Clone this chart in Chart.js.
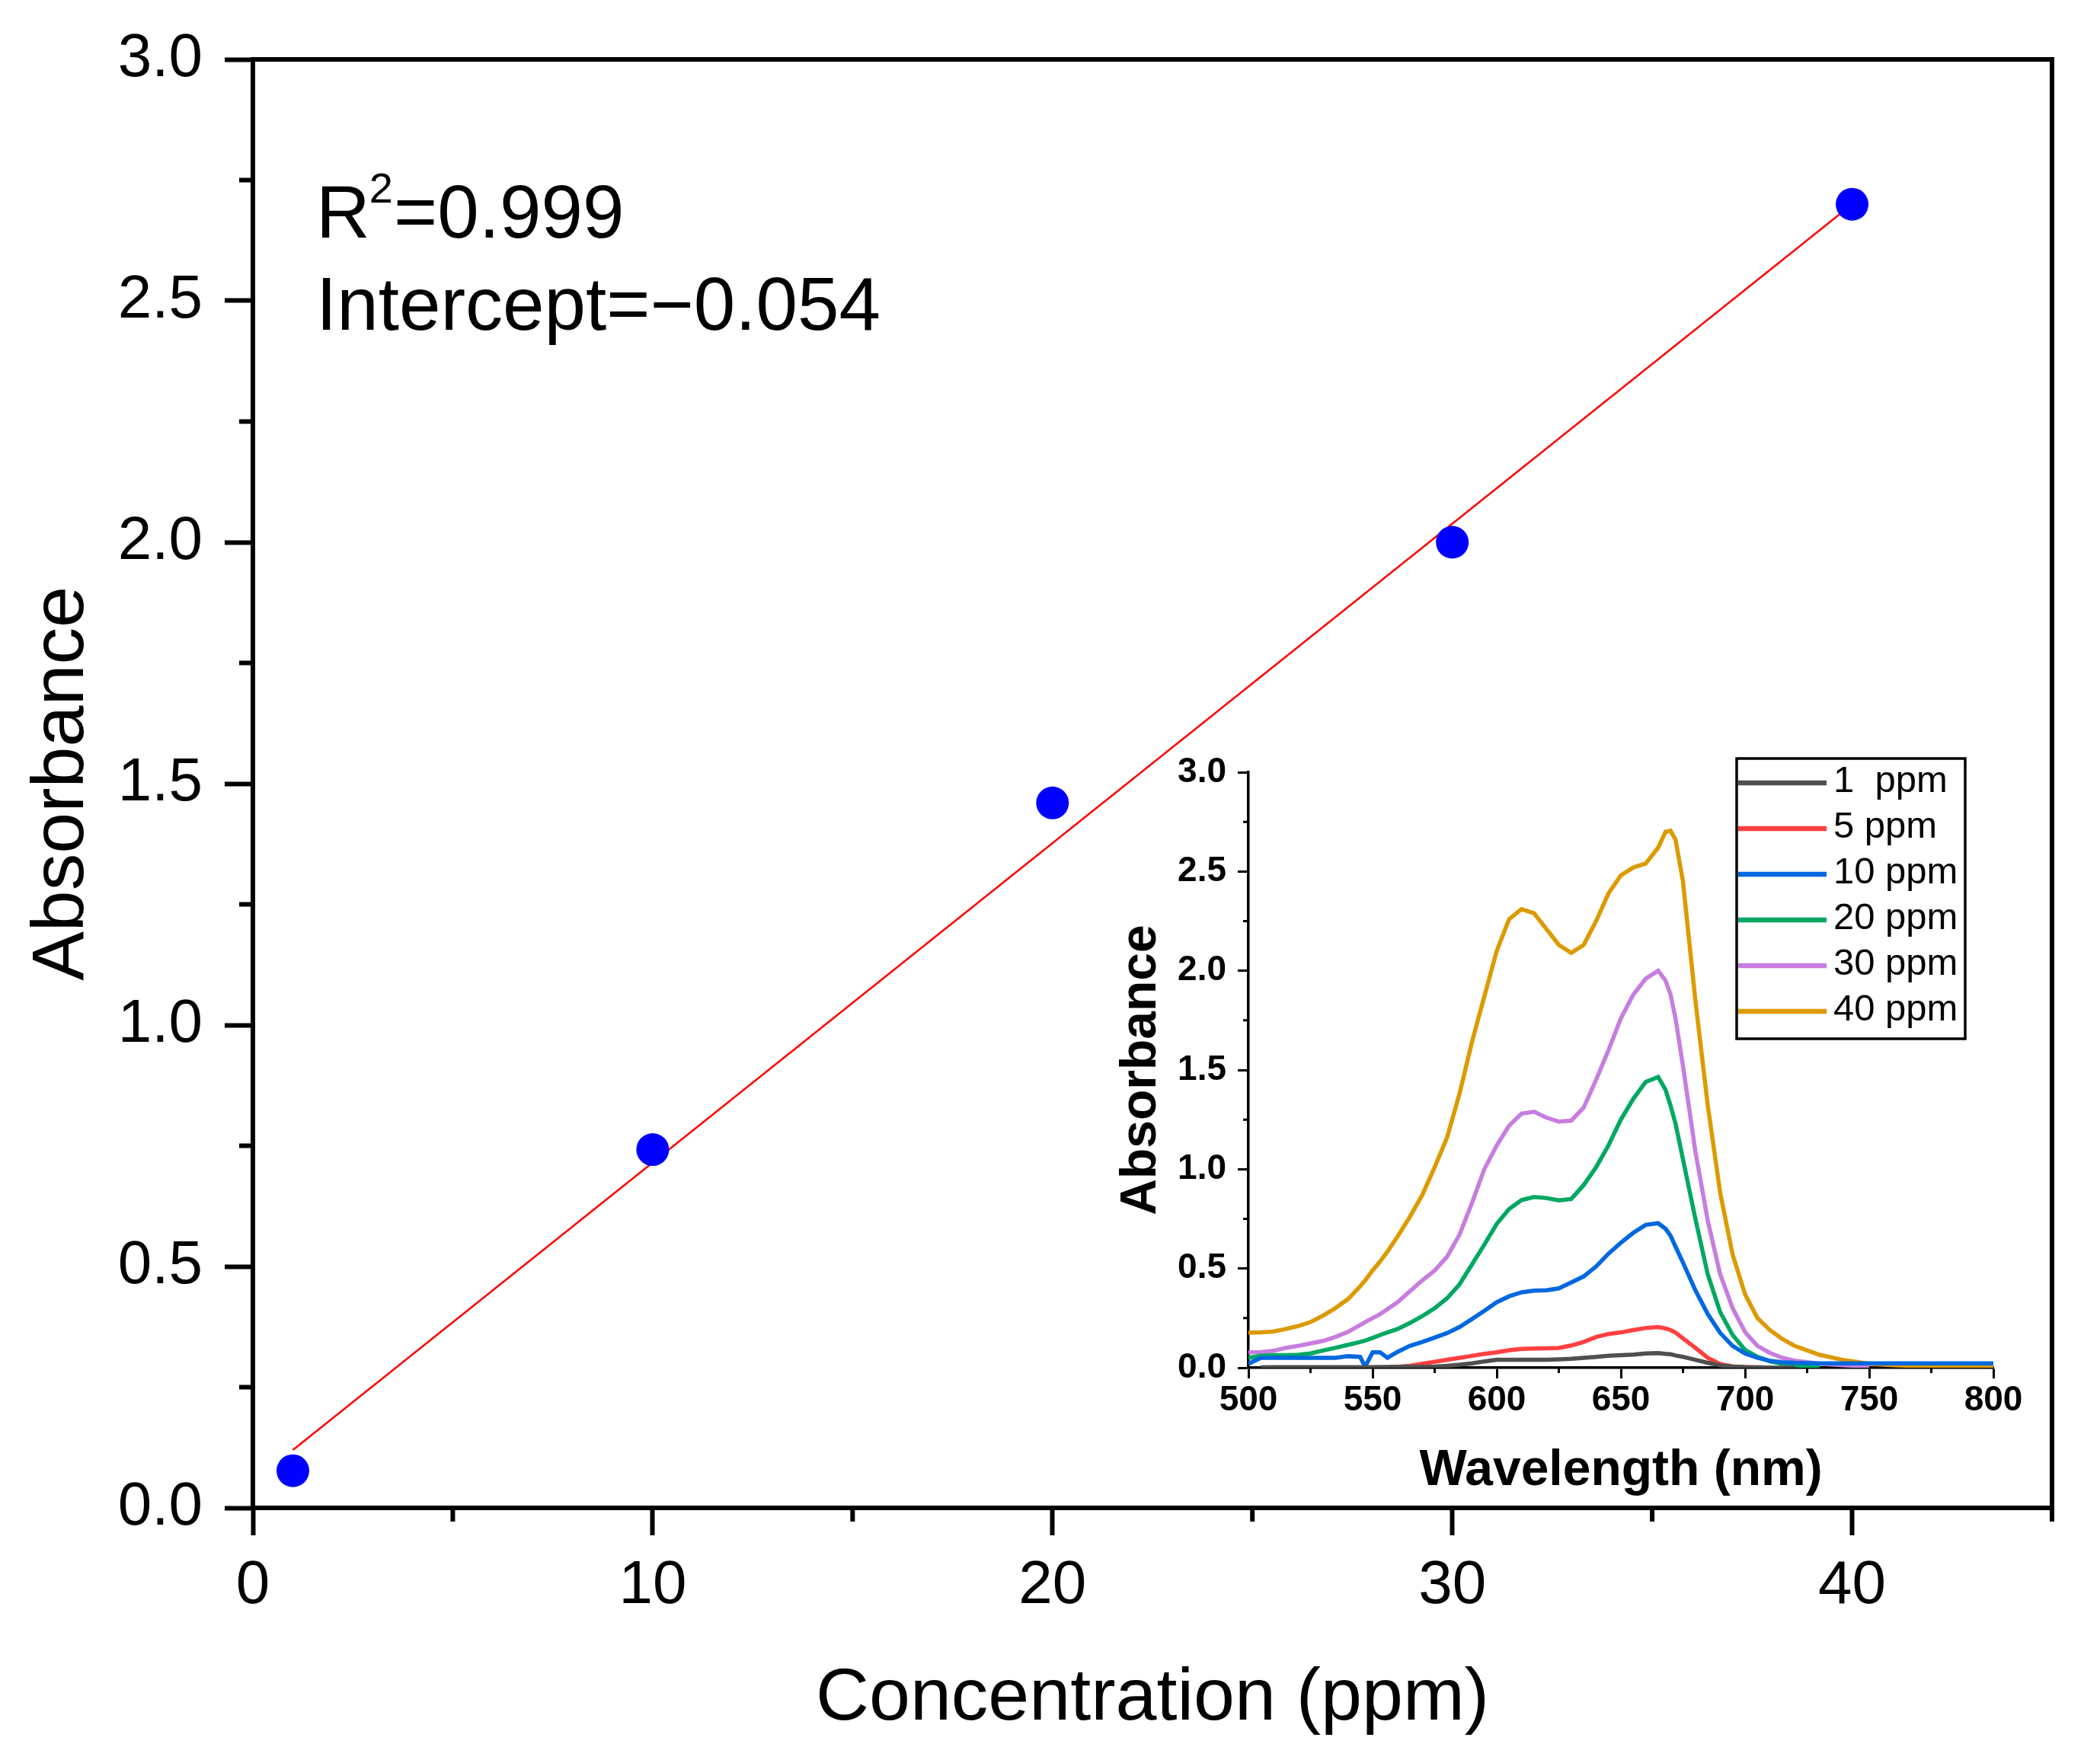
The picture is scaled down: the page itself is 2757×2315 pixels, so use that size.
<!DOCTYPE html>
<html>
<head>
<meta charset="utf-8">
<script src="https://cdn.jsdelivr.net/npm/chart.js@4.4.1/dist/chart.umd.min.js"></script>
<style>
  html, body { margin: 0; padding: 0; background: #fff; }
  #wrap { position: relative; width: 2757px; height: 2315px; }
  #main { position: absolute; left: 0; top: 0; }
  #inset { position: absolute; left: 1440px; top: 960px; }
</style>
</head>
<body>
<div id="wrap">
  <canvas id="main" width="2757" height="2315"></canvas>
  <canvas id="inset" width="1260" height="1040"></canvas>
</div>
<script>
// calibration points
var concentration = [1, 10, 20, 30, 40];
var absorbance = [0.077, 0.742, 1.46, 2.0, 2.70];
// fitted line, end points
var fitX = [1, 40];
var fitY = [0.12, 2.70];
var fitNotes = ["R", "2", "=0.999", "Intercept=\u22120.054"];

// spectra (inset)
var wavelength = [500,505,510,515,520,525,530,535,540,545,
  547,550,553,556,
  560,565,570,575,580,585,590,595,600,605,610,615,620,625,630,635,640,645,650,655,660,665,
  668,670,672,
  675,680,685,690,695,700,705,710,715,720,
  730,740,750,760,770,780,790,800];
var ppm1 = [null,0.002,0.003,0.003,0.003,0.003,0.003,0.003,0.003,0.003,
  0.003,0.003,0.004,0.004,
  0.005,0.005,0.005,0.006,0.01,0.015,0.022,0.032,0.04,0.04,0.04,0.04,0.04,0.042,0.045,0.05,0.055,0.06,0.063,0.066,0.072,0.074,
  0.07,0.068,0.062,
  0.055,0.04,0.025,0.012,0.006,0.003,0.002,0.001,0.0,0.0,
  null,null,null,null,null,null,null,null];
var ppm5 = [null,null,null,null,null,null,null,null,null,null,
  0.0,0.0,0.0,0.002,
  0.005,0.01,0.02,0.03,0.04,0.05,0.06,0.07,0.078,0.088,0.095,0.097,0.098,0.10,0.112,0.13,0.155,0.17,0.178,0.19,0.20,0.205,
  0.198,0.19,0.177,
  0.148,0.10,0.05,0.018,0.007,0.004,0.002,0.0,null,null,
  null,null,null,null,null,null,null,null];
var ppm10 = [0.02,0.05,0.05,0.05,0.05,0.05,0.05,0.05,0.058,0.055,
  0.005,0.078,0.078,0.05,
  0.08,0.11,0.13,0.152,0.175,0.205,0.245,0.287,0.33,0.36,0.38,0.388,0.39,0.40,0.43,0.46,0.51,0.575,0.63,0.68,0.72,0.728,
  0.70,0.665,0.61,
  0.53,0.39,0.27,0.175,0.11,0.072,0.05,0.035,0.028,0.025,
  0.022,0.022,0.022,0.022,0.022,0.022,0.022,0.022];
var ppm20 = [0.05,0.06,0.063,0.063,0.065,0.072,0.087,0.10,0.115,0.13,
  0.137,0.15,0.165,0.178,
  0.195,0.225,0.26,0.30,0.35,0.42,0.52,0.62,0.725,0.80,0.845,0.86,0.855,0.843,0.85,0.92,1.01,1.12,1.25,1.355,1.44,1.465,
  1.40,1.32,1.23,
  1.05,0.75,0.47,0.28,0.165,0.09,0.055,0.032,0.02,0.012,
  0.006,null,null,null,null,null,null,null];
var ppm30 = [0.078,0.079,0.085,0.10,0.11,0.123,0.135,0.155,0.18,0.215,
  0.23,0.25,0.27,0.295,
  0.33,0.385,0.44,0.49,0.56,0.67,0.83,1.00,1.12,1.22,1.28,1.29,1.26,1.24,1.245,1.31,1.45,1.60,1.76,1.88,1.96,2.00,
  1.95,1.88,1.76,
  1.52,1.09,0.74,0.47,0.30,0.18,0.11,0.075,0.05,0.036,
  0.02,0.012,0.007,null,null,null,null,null];
var ppm40 = [0.176,0.178,0.182,0.195,0.21,0.23,0.262,0.30,0.345,0.41,
  0.44,0.49,0.535,0.585,
  0.66,0.76,0.87,1.01,1.16,1.38,1.64,1.87,2.10,2.26,2.31,2.29,2.21,2.13,2.09,2.13,2.25,2.39,2.48,2.52,2.54,2.62,
  2.70,2.705,2.66,
  2.45,1.85,1.32,0.88,0.57,0.37,0.25,0.19,0.145,0.11,
  0.065,0.038,0.02,0.012,0.009,0.008,0.007,0.007];
var seriesLabels = ["1  ppm", "5 ppm", "10 ppm", "20 ppm", "30 ppm", "40 ppm"];
var seriesColors = ["#4f4f4f", "#ff4040", "#0068e0", "#00a862", "#c77de0", "#dc9a00"];

Chart.defaults.font.family = "'Liberation Sans', Arial, sans-serif";
Chart.defaults.color = "#000";

function pts(xs, ys) {
  return xs.map(function (x, i) { return { x: x, y: ys[i] }; });
}

// minor ticks between the major ones
var minorTicks = {
  id: "minorTicks",
  afterDraw: function (chart, args, o) {
    var ctx = chart.ctx, a = chart.chartArea;
    var xs = chart.scales.x, ys = chart.scales.y;
    ctx.save();
    ctx.strokeStyle = "#000";
    ctx.lineWidth = o.width;
    ctx.beginPath();
    for (var v = xs.min; v <= xs.max + 1e-9; v += o.xMinor) {
      var r = v / o.xMajor;
      if (Math.abs(r - Math.round(r)) < 1e-6) continue;
      var px = xs.getPixelForValue(v);
      ctx.moveTo(px, a.bottom);
      ctx.lineTo(px, a.bottom + o.len);
    }
    for (var w = ys.min; w <= ys.max + 1e-9; w += o.yMinor) {
      var q = w / o.yMajor;
      if (Math.abs(q - Math.round(q)) < 1e-6) continue;
      var py = ys.getPixelForValue(w);
      ctx.moveTo(a.left, py);
      ctx.lineTo(a.left - o.len, py);
    }
    ctx.stroke();
    ctx.restore();
  }
};

var frame = {
  id: "frame",
  afterDraw: function (chart, args, o) {
    if (!o.on) return;
    var ctx = chart.ctx, a = chart.chartArea;
    ctx.save();
    ctx.strokeStyle = "#000";
    ctx.lineWidth = o.width;
    ctx.beginPath();
    ctx.moveTo(a.left - o.width / 2, a.top);
    ctx.lineTo(a.right, a.top);
    ctx.lineTo(a.right, a.bottom + o.width / 2);
    ctx.stroke();
    ctx.restore();
  }
};

var notes = {
  id: "notes",
  afterDraw: function (chart) {
    var ctx = chart.ctx, a = chart.chartArea;
    var x0 = a.left + 83;
    ctx.save();
    ctx.fillStyle = "#000";
    ctx.textBaseline = "alphabetic";
    ctx.textAlign = "left";
    ctx.font = "98px 'Liberation Sans', Arial, sans-serif";
    ctx.fillText(fitNotes[0], x0, a.top + 234);
    var w = ctx.measureText(fitNotes[0]).width;
    ctx.font = "56px 'Liberation Sans', Arial, sans-serif";
    ctx.fillText(fitNotes[1], x0 + w - 1, a.top + 188);
    var w2 = ctx.measureText(fitNotes[1]).width;
    ctx.font = "98px 'Liberation Sans', Arial, sans-serif";
    ctx.fillText(fitNotes[2], x0 + w + w2, a.top + 234);
    ctx.fillText(fitNotes[3], x0, a.top + 355);
    ctx.restore();
  }
};

var boxLegend = {
  id: "boxLegend",
  afterDraw: function (chart) {
    var ctx = chart.ctx;
    var bx = 840, by = 36, bw = 300, bh = 368;
    ctx.save();
    ctx.strokeStyle = "#000";
    ctx.lineWidth = 3.5;
    ctx.strokeRect(bx, by, bw, bh);
    ctx.font = "49px 'Liberation Sans', Arial, sans-serif";
    ctx.textBaseline = "middle";
    ctx.textAlign = "left";
    chart.data.datasets.forEach(function (ds, i) {
      var y = by + 32 + i * 60;
      ctx.strokeStyle = ds.borderColor;
      ctx.lineWidth = 6.5;
      ctx.beginPath();
      ctx.moveTo(bx + 2, y);
      ctx.lineTo(bx + 118, y);
      ctx.stroke();
      ctx.fillStyle = "#000";
      ctx.fillText(ds.label, bx + 127, y - 2);
    });
    ctx.restore();
  }
};

new Chart(document.getElementById("main"), {
  type: "scatter",
  data: {
    datasets: [
      {
        label: "data",
        data: pts(concentration, absorbance),
        pointRadius: 21.5,
        pointBackgroundColor: "#0000ff",
        pointBorderWidth: 0,
        showLine: false,
        order: 0
      },
      {
        label: "fit",
        data: pts(fitX, fitY),
        showLine: true,
        borderColor: "#ff0000",
        borderWidth: 2.5,
        pointRadius: 0,
        order: 1
      }
    ]
  },
  options: {
    responsive: false,
    devicePixelRatio: 1,
    animation: false,
    events: [],
    layout: { padding: { left: 0, top: 78, right: 63, bottom: 0 } },
    plugins: {
      legend: { display: false },
      tooltip: { enabled: false },
      minorTicks: { xMinor: 5, xMajor: 10, yMinor: 0.25, yMajor: 0.5, len: 18, width: 6 },
      frame: { on: true, width: 6 }
    },
    scales: {
      x: {
        type: "linear", min: 0, max: 45,
        ticks: { stepSize: 10, includeBounds: false, padding: 19, font: { size: 80 }, maxRotation: 0, autoSkip: false },
        grid: { drawOnChartArea: false, tickLength: 36, tickWidth: 6, tickColor: "#000" },
        border: { color: "#000", width: 6 },
        title: { display: true, text: "Concentration (ppm)", font: { size: 97 }, padding: { top: 0, bottom: 26 } },
        afterFit: function (s) { s.height = 335; }
      },
      y: {
        min: 0, max: 3,
        ticks: { stepSize: 0.5, padding: 29, font: { size: 80 }, callback: function (v) { return v.toFixed(1); } },
        grid: { drawOnChartArea: false, tickLength: 37, tickWidth: 6, tickColor: "#000" },
        border: { color: "#000", width: 6 },
        title: { display: true, text: "Absorbance", font: { size: 97 }, padding: { top: 24, bottom: 0 } },
        afterFit: function (s) { s.width = 332; }
      }
    }
  },
  plugins: [minorTicks, frame, notes]
});

var spectra = [ppm1, ppm5, ppm10, ppm20, ppm30, ppm40];
new Chart(document.getElementById("inset"), {
  type: "scatter",
  data: {
    datasets: spectra.map(function (s, i) {
      return {
        label: seriesLabels[i],
        data: pts(wavelength, s),
        showLine: true,
        borderColor: seriesColors[i],
        borderWidth: 5.5,
        pointRadius: 0,
        tension: 0
      };
    })
  },
  options: {
    responsive: false,
    devicePixelRatio: 1,
    animation: false,
    events: [],
    layout: { padding: { left: 0, top: 54, right: 83, bottom: 0 } },
    plugins: {
      legend: { display: false },
      tooltip: { enabled: false },
      minorTicks: { xMinor: 25, xMajor: 50, yMinor: 0.25, yMajor: 0.5, len: 7, width: 3 },
      frame: { on: false }
    },
    scales: {
      x: {
        type: "linear", min: 500, max: 800,
        ticks: { stepSize: 50, padding: 2, font: { size: 46, weight: "bold" }, maxRotation: 0, autoSkip: false },
        grid: { drawOnChartArea: false, tickLength: 14, tickWidth: 3, tickColor: "#000" },
        border: { color: "#000", width: 3.5 },
        title: { display: true, text: "Wavelength (nm)", font: { size: 66, weight: "bold" }, padding: { top: 0, bottom: 29 } },
        afterFit: function (s) { s.height = 204; }
      },
      y: {
        min: 0, max: 3,
        ticks: { stepSize: 0.5, padding: 15, font: { size: 46, weight: "bold" }, callback: function (v) { return v.toFixed(1); } },
        grid: { drawOnChartArea: false, tickLength: 14, tickWidth: 3, tickColor: "#000" },
        border: { color: "#000", width: 3.5 },
        title: { display: true, text: "Absorbance", font: { size: 66, weight: "bold" }, padding: { top: 19, bottom: 0 } },
        afterFit: function (s) { s.width = 199; }
      }
    }
  },
  plugins: [minorTicks, frame, boxLegend]
});
</script>
</body>
</html>
